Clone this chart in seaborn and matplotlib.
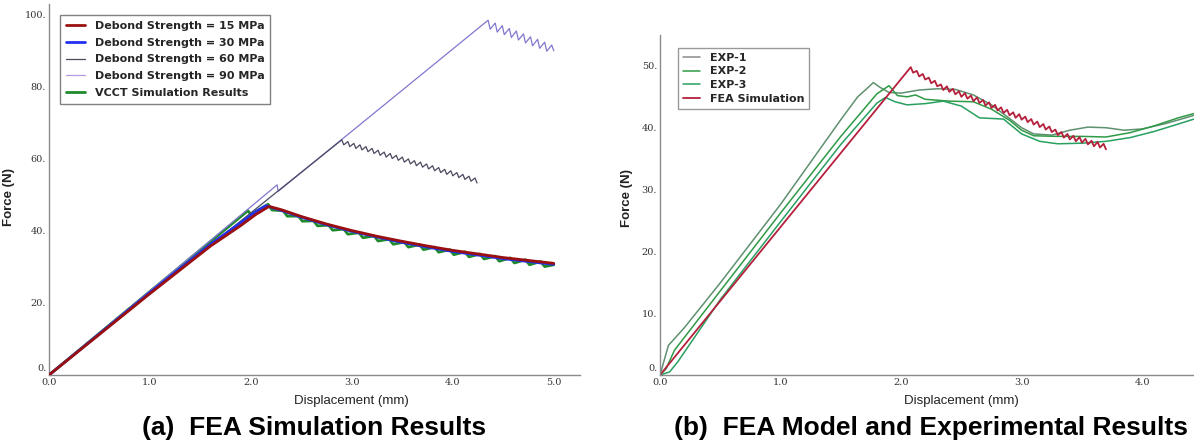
import numpy as np
import pandas as pd
import seaborn as sns
import matplotlib
matplotlib.use('Agg')
from matplotlib import pyplot as plt
from matplotlib.ticker import MultipleLocator, FuncFormatter
from matplotlib.transforms import ScaledTranslation


# ---- (a) FEA simulation results ----
deb15_x = [0.0, 1.0, 1.6, 1.9, 2.05, 2.18, 2.3, 2.5, 2.75, 3.0, 3.25, 3.5, 3.75, 4.0, 4.25, 4.5, 4.75, 5.0]
deb15_y = [0.0, 22.6, 35.8, 41.5, 44.6, 46.8, 45.9, 44.0, 41.9, 40.1, 38.5, 37.1, 35.8, 34.6, 33.6, 32.6, 31.8, 31.0]

deb30_x = [0.0, 1.0, 1.6, 1.9, 2.05, 2.15, 2.3, 2.5, 2.75, 3.0, 3.25, 3.5, 3.75, 4.0, 4.25, 4.5, 4.75, 5.0]
deb30_y = [0.0, 22.9, 36.3, 42.3, 45.4, 47.0, 45.7, 43.8, 41.7, 39.9, 38.3, 36.8, 35.5, 34.3, 33.3, 32.3, 31.5, 30.7]

deb60_x = [0.0,
           2.90, 2.92, 2.96, 2.98, 3.02, 3.04, 3.08, 3.10, 3.14, 3.16,
           3.20, 3.22, 3.26, 3.28, 3.32, 3.34, 3.38, 3.40, 3.44, 3.46,
           3.50, 3.52, 3.56, 3.58, 3.62, 3.64, 3.68, 3.70, 3.74, 3.76,
           3.80, 3.82, 3.86, 3.88, 3.92, 3.94, 3.98, 4.00, 4.04, 4.06,
           4.10, 4.12, 4.16, 4.18, 4.22, 4.24]
deb60_y = [0.0,
           65.3, 63.9, 64.8, 63.4, 64.3, 62.9, 63.9, 62.5, 63.4, 62.0,
           62.9, 61.5, 62.4, 61.0, 61.9, 60.5, 61.5, 60.1, 61.0, 59.6,
           60.5, 59.1, 60.0, 58.6, 59.5, 58.1, 59.1, 57.7, 58.6, 57.2,
           58.1, 56.7, 57.6, 56.2, 57.1, 55.7, 56.7, 55.3, 56.2, 54.8,
           55.7, 54.3, 55.2, 53.8, 54.7, 53.3]

deb90_x = [0.0, 2.26, 2.27, 4.35, 4.37, 4.42, 4.44, 4.49, 4.51, 4.56, 4.58, 4.63,
           4.65, 4.70, 4.72, 4.77, 4.79, 4.84, 4.86, 4.91, 4.93, 4.98, 5.00]
deb90_y = [0.0, 52.8, 51.0, 98.5, 96.0, 97.7, 95.2, 97.0, 94.5, 96.2, 93.7, 95.5,
           93.0, 94.7, 92.2, 93.9, 91.4, 93.2, 90.7, 92.4, 89.9, 91.6, 90.0]

vcct_x = [0.0, 1.0, 1.97, 2.0,
          2.17, 2.21, 2.32, 2.36, 2.47, 2.51, 2.62, 2.66, 2.77, 2.81,
          2.92, 2.96, 3.07, 3.11, 3.22, 3.26, 3.37, 3.41, 3.52, 3.56,
          3.67, 3.71, 3.82, 3.86, 3.97, 4.01, 4.12, 4.16, 4.27, 4.31,
          4.42, 4.46, 4.57, 4.61, 4.72, 4.76, 4.87, 4.91, 5.0]
vcct_y = [0.0, 23.2, 45.6, 44.6,
          47.4, 45.8, 45.6, 44.1, 44.1, 42.7, 42.8, 41.4, 41.6, 40.2,
          40.5, 39.1, 39.5, 38.1, 38.6, 37.2, 37.7, 36.3, 36.9, 35.5,
          36.2, 34.8, 35.5, 34.1, 34.8, 33.4, 34.2, 32.8, 33.6, 32.2,
          33.0, 31.6, 32.5, 31.1, 32.0, 30.6, 31.5, 30.1, 30.6]

# ---- (b) FEA model and experiments ----
exp1_x = [0.0, 0.07, 0.2, 0.5, 1.0, 1.5, 1.64, 1.72, 1.77, 1.82, 1.9, 2.0, 2.15, 2.3,
          2.45, 2.6, 2.75, 2.9, 3.0, 3.1, 3.25, 3.4, 3.55, 3.7, 3.85, 4.0, 4.2, 4.43]
exp1_y = [0.0, 4.8, 7.6, 14.9, 27.6, 41.3, 45.0, 46.4, 47.3, 46.6, 45.7, 45.6, 46.1, 46.3,
          46.2, 45.3, 43.7, 41.5, 40.0, 39.0, 38.8, 39.6, 40.1, 40.0, 39.6, 39.8, 40.7, 42.0]

exp2_x = [0.0, 0.05, 0.12, 0.5, 1.0, 1.5, 1.8, 1.9, 1.97, 2.05, 2.12, 2.2, 2.4,
          2.6, 2.75, 2.9, 3.0, 3.1, 3.3, 3.5, 3.7, 3.9, 4.1, 4.3, 4.43]
exp2_y = [0.0, 1.0, 4.0, 13.6, 26.2, 38.6, 45.5, 46.8, 45.2, 45.0, 45.3, 44.6, 44.3,
          44.2, 43.0, 41.2, 39.6, 38.7, 38.6, 38.6, 38.5, 39.2, 40.3, 41.6, 42.3]

exp3_x = [0.0, 0.08, 0.15, 0.5, 1.0, 1.5, 1.8, 1.87, 1.95, 2.05, 2.2, 2.35,
          2.5, 2.65, 2.85, 3.0, 3.15, 3.3, 3.5, 3.7, 3.9, 4.1, 4.3, 4.43]
exp3_y = [0.0, 0.5, 2.2, 12.2, 24.8, 37.3, 44.0, 44.9, 44.2, 43.7, 43.9, 44.3,
          43.5, 41.6, 41.4, 39.0, 37.8, 37.4, 37.5, 37.8, 38.4, 39.4, 40.6, 41.4]

fea_x = [0.0,
         2.08, 2.10, 2.13, 2.15, 2.18, 2.20, 2.23, 2.25, 2.28, 2.30,
         2.33, 2.35, 2.38, 2.40, 2.43, 2.45, 2.48, 2.50, 2.53, 2.55,
         2.58, 2.60, 2.63, 2.65, 2.68, 2.70, 2.73, 2.75, 2.78, 2.80,
         2.83, 2.85, 2.88, 2.90, 2.93, 2.95, 2.98, 3.00, 3.03, 3.05,
         3.08, 3.10, 3.13, 3.15, 3.18, 3.20, 3.23, 3.25, 3.28, 3.30,
         3.33, 3.35, 3.38, 3.40, 3.43, 3.45, 3.48, 3.50, 3.53, 3.55,
         3.58, 3.60, 3.63, 3.65, 3.68, 3.70]
fea_y = [0.0,
         49.8, 48.9, 49.2, 48.3, 48.7, 47.8, 48.1, 47.2, 47.6, 46.7,
         47.0, 46.1, 46.7, 45.8, 46.3, 45.4, 45.9, 45.0, 45.6, 44.7,
         45.2, 44.3, 44.9, 44.0, 44.5, 43.6, 44.1, 43.2, 43.7, 42.8,
         43.3, 42.4, 42.9, 42.0, 42.5, 41.6, 42.2, 41.3, 41.8, 40.9,
         41.4, 40.5, 41.0, 40.1, 40.6, 39.7, 40.2, 39.3, 39.7, 38.8,
         39.3, 38.4, 39.0, 38.1, 38.7, 37.8, 38.5, 37.6, 38.2, 37.3,
         37.9, 37.0, 37.7, 36.8, 37.4, 36.5]

sns.set_style("white")
plt.rcParams['font.family'] = ['DejaVu Sans']

SPINE = '#8a8a8a'
TICKFONT = dict(family='DejaVu Serif', size=7, color='#333333')
LABELFONT = dict(family=['Liberation Sans', 'DejaVu Sans'], size=9.5, color='#222222')
CAPFONT = dict(family=['Liberation Sans', 'DejaVu Sans'], weight='bold', size=19, color='black')


def style_axes(ax, xmax, ymax, ymajor, yminor, yfmt):
    ax.set_xlim(0, xmax)
    ax.set_ylim(0, ymax)
    for s in ['top', 'right']:
        ax.spines[s].set_visible(False)
    for s in ['left', 'bottom']:
        ax.spines[s].set_color(SPINE)
        ax.spines[s].set_linewidth(1.0)
    ax.xaxis.set_major_locator(MultipleLocator(1.0))
    ax.xaxis.set_minor_locator(MultipleLocator(0.5))
    ax.yaxis.set_major_locator(MultipleLocator(ymajor))
    ax.yaxis.set_minor_locator(MultipleLocator(yminor))
    ax.xaxis.set_major_formatter(FuncFormatter(lambda v, p: '%.1f' % v))
    ax.yaxis.set_major_formatter(FuncFormatter(yfmt))
    ax.tick_params(which='both', direction='in', color=SPINE, width=0.8, pad=2)
    ax.tick_params(which='major', length=4)
    ax.tick_params(which='minor', length=2)
    ax.set_xlabel('Displacement (mm)', **LABELFONT)
    ax.set_ylabel('Force (N)', fontweight='bold', **LABELFONT)


def finish_ticklabels(ax):
    # run after drawing so the tick objects are final
    for lab in ax.get_xticklabels() + ax.get_yticklabels():
        lab.set_fontfamily(TICKFONT['family'])
        lab.set_fontsize(TICKFONT['size'])
        lab.set_color(TICKFONT['color'])
    # the "0." label sits just above the x axis, as in the source figure
    for t in ax.yaxis.get_major_ticks():
        if abs(t.get_loc()) < 1e-9:
            t.label1.set_verticalalignment('bottom')
            t.label1.set_transform(t.label1.get_transform() +
                                   ScaledTranslation(0, 1.5 / 72, ax.figure.dpi_scale_trans))


fig = plt.figure(figsize=(11.94, 4.48), dpi=100)
ax1 = fig.add_axes([49 / 1194, 73 / 448, 531 / 1194, 371 / 448])
ax2 = fig.add_axes([660 / 1194, 73 / 448, 534 / 1194, 340 / 448])

# left panel
sns.lineplot(x=vcct_x, y=vcct_y, ax=ax1, sort=False, estimator=None, color='#1f8a2a', linewidth=2.0,
             label='VCCT Simulation Results', zorder=2)
sns.lineplot(x=deb60_x, y=deb60_y, ax=ax1, sort=False, estimator=None, color='#4a4a60', linewidth=0.9,
             label='Debond Strength = 60 MPa', zorder=2.7)
sns.lineplot(x=deb90_x, y=deb90_y, ax=ax1, sort=False, estimator=None, color='#8078d0', linewidth=0.9,
             label='Debond Strength = 90 MPa', zorder=2.5)
sns.lineplot(x=deb30_x, y=deb30_y, ax=ax1, sort=False, estimator=None, color='#2230f0', linewidth=2.0,
             label='Debond Strength = 30 MPa', zorder=3)
sns.lineplot(x=deb15_x, y=deb15_y, ax=ax1, sort=False, estimator=None, color='#9a1010', linewidth=2.0,
             label='Debond Strength = 15 MPa', zorder=4)

style_axes(ax1, 5.26, 103, 20, 10, lambda v, p: '%d.' % v)
ax1.xaxis.set_label_coords(3.0 / 5.26, -0.054)
ax1.yaxis.set_label_coords(-0.064, 0.48)

h, l = ax1.get_legend_handles_labels()
order = ['Debond Strength = 15 MPa', 'Debond Strength = 30 MPa', 'Debond Strength = 60 MPa',
         'Debond Strength = 90 MPa', 'VCCT Simulation Results']
hl = dict(zip(l, h))
leg1 = ax1.legend([hl[k] for k in order], order, loc='upper left', bbox_to_anchor=(0.021, 0.970),
                  borderaxespad=0, frameon=True, fancybox=False, edgecolor='#808080',
                  prop=dict(family='DejaVu Sans', weight='bold', size=8),
                  handlelength=1.7, handletextpad=0.9, labelspacing=0.62, borderpad=0.5)
leg1.get_frame().set_linewidth(1.0)
leg1.get_frame().set_facecolor('white')
leg1.get_frame().set_alpha(1)
leg1.legend_handles[3].set_color('#b39be6')

# right panel
sns.lineplot(x=exp1_x, y=exp1_y, ax=ax2, sort=False, estimator=None, color='#5f9070', linewidth=1.1,
             label='EXP-1')
sns.lineplot(x=exp2_x, y=exp2_y, ax=ax2, sort=False, estimator=None, color='#2f9a45', linewidth=1.1,
             label='EXP-2')
sns.lineplot(x=exp3_x, y=exp3_y, ax=ax2, sort=False, estimator=None, color='#28a060', linewidth=1.1,
             label='EXP-3')
sns.lineplot(x=fea_x, y=fea_y, ax=ax2, sort=False, estimator=None, color='#b5203c', linewidth=1.3,
             label='FEA Simulation')

style_axes(ax2, 4.43, 55, 10, 5, lambda v, p: '%d.' % v)
ax2.xaxis.set_label_coords(2.5 / 4.43, -0.059)
ax2.yaxis.set_label_coords(-0.05, 0.52)

leg2 = ax2.legend(loc='upper left', bbox_to_anchor=(0.034, 0.962), borderaxespad=0,
                  frameon=True, fancybox=False, edgecolor='#808080',
                  prop=dict(family='DejaVu Sans', weight='bold', size=8),
                  handlelength=1.5, handletextpad=0.9, labelspacing=0.32, borderpad=0.45)
leg2.get_frame().set_linewidth(1.0)
leg2.legend_handles[0].set_color('#8a8a8a')

fig.text(314 / 1194, 20 / 448, '(a)  FEA Simulation Results', ha='center', va='center', **CAPFONT)
fig.text(931 / 1194, 20 / 448, '(b)  FEA Model and Experimental Results', ha='center', va='center', **CAPFONT)

fig.canvas.draw()
finish_ticklabels(ax1)
finish_ticklabels(ax2)

fig.savefig('out.png', dpi=100, facecolor='white')
